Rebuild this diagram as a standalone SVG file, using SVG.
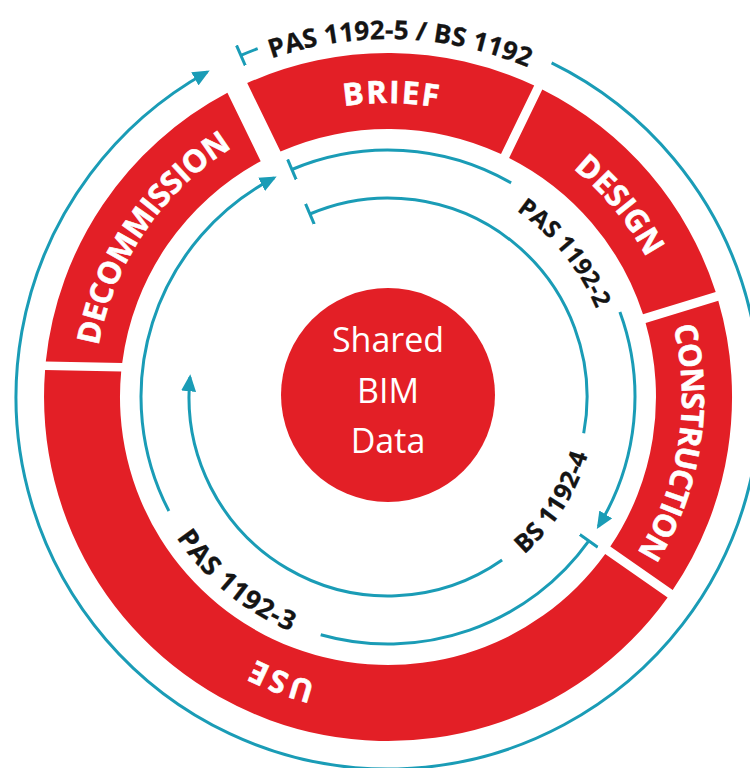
<svg xmlns="http://www.w3.org/2000/svg" xmlns:xlink="http://www.w3.org/1999/xlink" width="750" height="768" viewBox="0 0 750 768">
  <style>
    .seg { fill: #e31f26; }
    .seg-label { font-family: "Open Sans", "Noto Sans", "Liberation Sans", sans-serif; font-weight: 700; font-size: 31px; fill: #ffffff; stroke: #ffffff; stroke-width: 0.6; }
    .std-label { font-family: "Open Sans", "Noto Sans", "Liberation Sans", sans-serif; font-weight: 700; fill: #141414; stroke: #141414; stroke-width: 0.3; }
    .flow { fill: none; stroke: #1a9cb6; stroke-width: 3; }
    .core-text { font-family: "Open Sans", "Noto Sans", "Liberation Sans", sans-serif; font-size: 34px; fill: #ffffff; text-anchor: middle; }
  </style>
  <defs>
    <!-- baseline circle for the ring labels, starting at the left and running clockwise -->
    <path id="ringBase" d="M 94 397 A 294 294 0 1 1 682 397 A 294 294 0 1 1 94 397"/>
    <path id="outerBase" d="M 167.6 114.9 A 358 358 0 0 1 627.5 131.0"/>
    <path id="pas2Base" d="M 431.1 174.9 A 226 226 0 0 1 614.0 399.4"/>
    <path id="pas3Base" d="M 137.5 355.1 A 254 254 0 0 0 476.9 634.9"/>
    <path id="bs4Base" d="M 378.6 604.8 A 208 208 0 0 0 572.7 301.3"/>
    <marker id="arrow" markerUnits="userSpaceOnUse" viewBox="0 0 17 15" markerWidth="17" markerHeight="15" refX="14" refY="7.5" orient="auto">
      <path d="M0,0 L17,7.5 L0,15 Z" fill="#1a9cb6"/>
    </marker>
    <marker id="tick" markerUnits="userSpaceOnUse" viewBox="0 0 4 22" markerWidth="4" markerHeight="22" refX="2" refY="11" orient="auto">
      <path d="M2,0 V22" stroke="#1a9cb6" stroke-width="3"/>
    </marker>
  </defs>

  <rect width="750" height="768" fill="#ffffff"/>

  <!-- lifecycle ring -->
  <g id="brief">
    <path class="seg" d="M 247.2 83.1 A 344 344 0 0 1 534.2 85.6 L 501.0 154.0 A 268 268 0 0 0 280.5 151.5 Z"/>
    <text class="seg-label"><textPath xlink:href="#ringBase" href="#ringBase" startOffset="464.4" text-anchor="middle" textLength="94" lengthAdjust="spacing">BRIEF</textPath></text>
  </g>
  <g id="design">
    <path class="seg" d="M 542.3 89.5 A 344 344 0 0 1 715.7 292.1 L 643.0 314.3 A 268 268 0 0 0 509.1 157.9 Z"/>
    <text class="seg-label"><textPath xlink:href="#ringBase" href="#ringBase" startOffset="719.9" text-anchor="middle" textLength="116" lengthAdjust="spacing">DESIGN</textPath></text>
  </g>
  <g id="construction">
    <path class="seg" d="M 718.3 300.7 A 344 344 0 0 1 672.7 590.1 L 610.3 546.6 A 268 268 0 0 0 645.6 323.0 Z"/>
    <text class="seg-label"><textPath xlink:href="#ringBase" href="#ringBase" startOffset="969.8" text-anchor="middle" textLength="236" lengthAdjust="spacing">CONSTRUCTION</textPath></text>
  </g>
  <g id="use">
    <path class="seg" d="M 667.6 597.5 A 344 344 0 0 1 45.1 370 L 121.2 371.5 A 268 268 0 0 0 605.2 554.0 Z"/>
    <text class="seg-label"><textPath xlink:href="#ringBase" href="#ringBase" startOffset="1490.1" text-anchor="middle" textLength="64" lengthAdjust="spacing">USE</textPath></text>
  </g>
  <g id="decommission">
    <path class="seg" d="M 45.8 361.5 A 344 344 0 0 1 227.4 92.8 L 260.7 161.2 A 268 268 0 0 0 122.2 363 Z"/>
    <text class="seg-label"><textPath xlink:href="#ringBase" href="#ringBase" startOffset="174.5" text-anchor="middle" textLength="246" lengthAdjust="spacing">DECOMMISSION</textPath></text>
  </g>

  <!-- shared data hub -->
  <g id="shared-bim-data">
    <circle cx="388" cy="395" r="107" fill="#e31f26"/>
    <text class="core-text" x="388" y="352">Shared</text>
    <text class="core-text" x="388" y="403">BIM</text>
    <text class="core-text" x="388" y="453">Data</text>
  </g>

  <!-- standard flows -->
  <g id="connectors">
    <path class="flow" d="M 551.6 62.9 A 372 372 0 1 1 207.1 72.0" marker-end="url(#arrow)"/>
    <path class="flow" d="M 240.9 55.4 A 372 372 0 0 1 257.7 48.6" marker-start="url(#tick)"/>
    <path class="flow" d="M 291.9 169.5 A 247 247 0 0 1 511.1 182.9" marker-start="url(#tick)"/>
    <path class="flow" d="M 619.9 312.1 A 247 247 0 0 1 598.4 526.4" marker-end="url(#arrow)"/>
    <path class="flow" d="M 588.8 540.8 A 247 247 0 0 1 320.7 634.7" marker-start="url(#tick)"/>
    <path class="flow" d="M 168.9 511.0 A 247 247 0 0 1 274.0 177.9" marker-end="url(#arrow)"/>
    <path class="flow" d="M 309.9 214.0 A 199 199 0 0 1 583.7 433.3" marker-start="url(#tick)"/>
    <path class="flow" d="M 502.1 560.0 A 199 199 0 0 1 190.0 377.2" marker-end="url(#arrow)"/>
  </g>

  <!-- standard labels -->
  <g id="standard-labels">
    <text class="std-label" font-size="26"><textPath xlink:href="#outerBase" href="#outerBase" startOffset="50%" text-anchor="middle" textLength="262" lengthAdjust="spacing">PAS 1192-5 / BS 1192</textPath></text>
    <text class="std-label" font-size="24"><textPath xlink:href="#pas2Base" href="#pas2Base" startOffset="50%" text-anchor="middle" textLength="128" lengthAdjust="spacing">PAS 1192-2</textPath></text>
    <text class="std-label" font-size="27"><textPath xlink:href="#pas3Base" href="#pas3Base" startOffset="50%" text-anchor="middle" textLength="150" lengthAdjust="spacing">PAS 1192-3</textPath></text>
    <text class="std-label" font-size="25"><textPath xlink:href="#bs4Base" href="#bs4Base" startOffset="50%" text-anchor="middle" textLength="120" lengthAdjust="spacing">BS 1192-4</textPath></text>
  </g>
</svg>
